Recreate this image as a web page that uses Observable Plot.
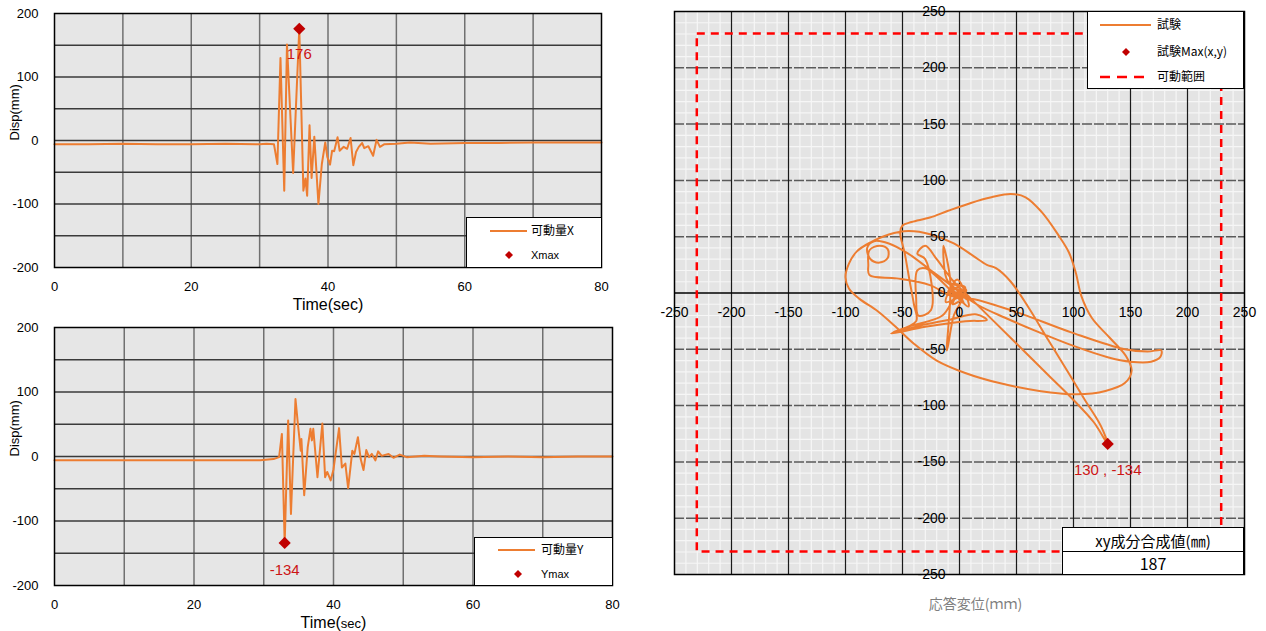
<!DOCTYPE html>
<html><head><meta charset="utf-8">
<script src="https://cdn.jsdelivr.net/npm/d3@7"></script>
<script src="https://cdn.jsdelivr.net/npm/@observablehq/plot@0.6"></script>
<style>
body{margin:0;background:#fff;}
#root{position:relative;width:1266px;height:631px;overflow:hidden;font-family:"Liberation Sans","Noto Sans CJK JP",sans-serif;}
.pane{position:absolute;}
.pane svg{overflow:visible;}
.box{position:absolute;background:#fff;border:1px solid #000;box-sizing:border-box;}
.item{position:absolute;white-space:nowrap;line-height:1;transform:translateY(-50%);}
.item.center{transform:translate(-50%,-50%);}
</style></head><body><div id="root"></div>
<script>
// ---- time series X (top) ----
const timeX = [0, 5, 10, 15, 20, 25, 30, 31, 32.1, 32.6, 33.05, 33.6, 34.0, 34.9, 35.8, 36.4, 36.7, 36.95, 37.3, 37.6, 38.0, 38.6, 39.1, 39.6, 39.9, 40.3, 40.6, 40.9, 41.4, 41.7, 42.3, 42.8, 43.3, 43.7, 44.1, 44.5, 45.0, 45.3, 45.9, 46.6, 47.1, 47.6, 48.2, 50, 52, 55, 60, 65, 70, 75, 80];
const dispX = [-6, -6, -5, -6, -6, -5, -6, -5, -6, -37, 130, -79, 151, -51, 176, -79, -60, -87, 24, -59, 6, -100, -37, -3, -26, -38, -16, -17, 5, -16, -10, -13, 4, -39, -18, -10, -4, -12, -9, -24, 1, -10, -6, -5, -3, -5, -4, -4, -3, -3, -3];
const maxXPoint = [35.8, 176];
// ---- time series Y (bottom) ----
const timeY = [0, 5, 10, 15, 20, 25, 29.5, 31.4, 32.2, 32.6, 33.0, 33.5, 33.9, 34.55, 34.9, 35.3, 35.4, 35.8, 36.3, 36.7, 36.9, 37.1, 37.7, 38.4, 38.8, 39.1, 39.6, 40.0, 40.8, 41.2, 41.7, 42.1, 42.7, 43.0, 43.5, 43.9, 44.3, 44.7, 45.1, 45.5, 46.0, 46.4, 46.9, 47.9, 48.6, 49.5, 50.5, 53, 55.3, 60, 65, 70, 75, 80];
const dispY = [-6, -6, -6, -6, -6, -6, -6, -4, -1, 35, -134, 56, -89, 89, 50, 9, 27, -60, 14, 43, 25, 43, -32, 51, -32, -24, -37, -20, 44, -17, -11, -49, 9, 4, 30, -4, -21, 10, -1, 4, -6, 8, 1, 4, -2, 3, -1, 1, 0, -1, 0, -1, 0, 0];
const maxYPoint = [33.0, -134];
// ---- XY orbit ----
const orbitX = [-5, -2, -8, 0, -6, 3, -10, -4, 6, -12, -2, 8, -30, -37, -38, -36, -25, -30, -37, -30, -20, -5, 10, 30, 55, 80, 100, 118, 130, 124, 110, 95, 78, 60, 45, 32, 24, 12, -5, -25, -45, -62, -78, -90, -97, -100, -97, -88, -72, -56, -40, -20, 5, 35, 70, 103, 128, 145, 151, 146, 132, 116, 107, 102, 96, 87, 72, 58, 45, 28, 10, -10, -26, -42, -50, -52, -48, -44, -40, -38, -58, -35, -10, 15, 24, 5, -30, -60, -45, -15, -5, 5, -10, -14, -8, -11, -5, 3, -8, 4, -3, 7, 10, 50, 98, 145, 165, 177, 176, 168, 150, 130, 100, 70, 40, 15, -5, -25, -45, -62, -75, -81, -78, -70, -63, -63, -70, -79, -80, -79, -55, -26, -5, 2, -6, 0];
const orbitY = [-6, -3, 2, 5, -10, -4, 0, 8, 2, -8, 12, -12, 22, 20, -5, -20, -15, 30, 35, 42, 30, 10, -5, -25, -50, -75, -95, -115, -134, -118, -95, -70, -42, -12, 10, 22, 25, 33, 44, 52, 55, 52, 45, 37, 26, 14, 4, -5, -16, -30, -45, -60, -71, -80, -87, -90, -87, -80, -69, -56, -40, -22, -3, 18, 36, 51, 72, 85, 88, 85, 80, 73, 67, 63, 60, 54, 35, 12, -10, -25, -35, -29, -24, -19, -24, -25, -30, -36, -30, -20, -5, 5, 10, 42, 10, -51, -20, -2, 6, -9, 4, -6, -5, -17, -35, -50, -52, -51, -57, -61, -61, -57, -47, -35, -22, -10, 5, 20, 35, 44, 46, 40, 30, 27, 31, 39, 42, 38, 25, 16, 13, 7, -3, 2, 3, -2];
const xyMax = [130, -134];
const rangeLimit = [-230, 230];
const resultant = "187";
// ---- ticks ----
const timeTicks = [0, 20, 40, 60, 80];
const dispTicks = [-200, -100, 0, 100, 200];
const xyTicks = [-250, -200, -150, -100, -50, 0, 50, 100, 150, 200, 250];

const FONT = "'Liberation Sans','Noto Sans CJK JP',sans-serif";
const JP = "'Noto Sans CJK JP',sans-serif";
const ORANGE = "#ED7D31", DARKRED = "#C00000", LABELRED = "#CC1515";
const root = document.getElementById("root");

function timePlot(times, disps, maxPt, labelDy, width, height, marginRight, marginBottom) {
  const data = times.map((t, i) => ({t, d: disps[i]}));
  return Plot.plot({
    width, height, marginTop: 13, marginLeft: 54, marginRight, marginBottom,
    style: {fontFamily: FONT, fontSize: "13px", background: "transparent", color: "#000"},
    x: {domain: [0, 80], ticks: timeTicks, tickSize: 0, tickPadding: 14, label: null, tickFormat: d => String(d)},
    y: {domain: [-200, 200], ticks: dispTicks, tickSize: 0, tickPadding: 16, label: null, tickFormat: d => String(d)},
    marks: [
      Plot.frame({fill: "#e6e6e6"}),
      Plot.ruleX(d3.range(10, 80, 10), {stroke: "#707070", strokeWidth: 1.5}),
      Plot.ruleY(d3.range(-150, 200, 50), {stroke: "#3a3a3a", strokeWidth: 1.5}),
      Plot.line(data, {x: "t", y: "d", stroke: ORANGE, strokeWidth: 2}),
      Plot.dot([{t: maxPt[0], d: maxPt[1]}], {x: "t", y: "d", symbol: "diamond2", r: 5.5, fill: DARKRED, stroke: "none"}),
      Plot.text([{t: maxPt[0], d: maxPt[1]}], {x: "t", y: "d", text: d => String(d.d), dy: labelDy, fill: LABELRED, fontSize: 15}),
      Plot.text(["Time(sec)"], {frameAnchor: "bottom", lineAnchor: "middle", dy: 37, fontSize: 16}),
      Plot.text(["Disp(mm)"], {frameAnchor: "left", lineAnchor: "middle", dx: -40, rotate: -90, fontSize: 13}),
      Plot.frame({stroke: "#000", strokeWidth: 1.5})
    ]
  });
}

// top-left
const p1 = timePlot(timeX, dispX, maxXPoint, 25, 620, 312, 19, 45);
const d1 = document.createElement("div"); d1.className = "pane"; d1.style.left = "0px"; d1.style.top = "0px";
d1.appendChild(p1); root.appendChild(d1);

// bottom-left
const p2 = timePlot(timeY, dispY, maxYPoint, 27, 630, 317, 18, 46);
const d2 = document.createElement("div"); d2.className = "pane"; d2.style.left = "0px"; d2.style.top = "314px";
d2.appendChild(p2); root.appendChild(d2);
d3.select(p2).selectAll("text").filter(function(){ return this.textContent === "Time(sec)"; }).each(function(){
  const t = d3.select(this); t.text("");
  t.append("tspan").attr("font-size", 16).text("Time(");
  t.append("tspan").attr("font-size", 13).text("sec");
  t.append("tspan").attr("font-size", 16).text(")");
});

// right XY
const xyData = orbitX.map((x, i) => ({x, y: orbitY[i]}));
const minor = d3.range(-240, 250, 10).filter(v => v % 50 !== 0);
const major = d3.range(-200, 250, 50);
const p3 = Plot.plot({
  width: 636, height: 631, marginLeft: 44, marginRight: 22, marginTop: 11, marginBottom: 57,
  style: {fontFamily: FONT, fontSize: "14px", background: "transparent", color: "#000"},
  x: {domain: [-250, 250], axis: null},
  y: {domain: [-250, 250], axis: null},
  marks: [
    Plot.frame({fill: "#e4e4e4"}),
    Plot.ruleX(minor, {stroke: "#f6f6f6", strokeWidth: 1.2}),
    Plot.ruleY(minor, {stroke: "#f6f6f6", strokeWidth: 1.2}),
    Plot.ruleY(major.filter(v => v !== 0), {stroke: "#5a5a5a", strokeWidth: 1.5, strokeDasharray: "10,2"}),
    Plot.ruleX(major, {stroke: "#1a1a1a", strokeWidth: 1.2}),
    Plot.ruleY([0], {stroke: "#000", strokeWidth: 1.5}),
    Plot.rect([{x1: rangeLimit[0], x2: rangeLimit[1], y1: rangeLimit[0], y2: rangeLimit[1]}],
      {x1: "x1", x2: "x2", y1: "y1", y2: "y2", fill: "none", stroke: "#ff0000", strokeWidth: 2.5, strokeDasharray: "8,6"}),
    Plot.line(xyData, {x: "x", y: "y", stroke: ORANGE, strokeWidth: 2, curve: "catmull-rom"}),
    Plot.dot([{x: xyMax[0], y: xyMax[1]}], {x: "x", y: "y", symbol: "diamond2", r: 5.5, fill: DARKRED, stroke: "none"}),
    Plot.text([{x: xyMax[0], y: xyMax[1]}], {x: "x", y: "y", text: d => `${d.x} , ${d.y}`, dy: 26, fill: LABELRED, fontSize: 15}),
    Plot.text(xyTicks, {x: d => d, y: 0, dy: 20, text: d => String(d), fontSize: 14}),
    Plot.text(xyTicks, {x: 0, y: d => d, dx: -14, textAnchor: "end", text: d => String(d), fontSize: 14}),
    Plot.text(["応答変位(ｍｍ)"], {frameAnchor: "bottom", lineAnchor: "middle", dy: 30, dx: 16, fill: "#7f7f7f", fontSize: 14, fontFamily: JP}),
    Plot.frame({stroke: "#000", strokeWidth: 1.5})
  ]
});
const d3p = document.createElement("div"); d3p.className = "pane"; d3p.style.left = "630px"; d3p.style.top = "0px";
d3p.appendChild(p3); root.appendChild(d3p);

// ---- legends (HTML) ----
function lineSwatch(w, color, dash, sw) {
  return `<svg width="${w}" height="6" style="display:block"><line x1="0" x2="${w}" y1="3" y2="3" stroke="${color}" stroke-width="${sw}" ${dash ? `stroke-dasharray="${dash}"` : ""}/></svg>`;
}
function diamondSwatch(s) {
  return `<svg width="${s}" height="${s}" style="display:block"><polygon points="${s/2},0 ${s},${s/2} ${s/2},${s} 0,${s/2}" fill="${DARKRED}"/></svg>`;
}
function addBox(left, top, w, h, items) {
  const b = document.createElement("div"); b.className = "box";
  Object.assign(b.style, {left: left + "px", top: top + "px", width: w + "px", height: h + "px"});
  for (const it of items) {
    const e = document.createElement("div");
    e.className = "item" + (it.center ? " center" : "");
    e.style.left = it.x + "px"; e.style.top = it.y + "px";
    e.style.fontSize = (it.fs || 12) + "px";
    if (it.font) e.style.fontFamily = it.font;
    e.innerHTML = it.html;
    b.appendChild(e);
  }
  root.appendChild(b);
  return b;
}
addBox(466, 217, 136, 51, [
  {x: 23, y: 13, html: lineSwatch(37, ORANGE, null, 2)},
  {x: 64, y: 12, html: "可動量X", fs: 12, font: JP},
  {x: 38, y: 37, html: diamondSwatch(8)},
  {x: 64, y: 37, html: "Xmax", fs: 11}
]);
addBox(474, 537, 139, 49, [
  {x: 23, y: 12, html: lineSwatch(37, ORANGE, null, 2)},
  {x: 66, y: 11, html: "可動量Y", fs: 12, font: JP},
  {x: 39, y: 36, html: diamondSwatch(8)},
  {x: 66, y: 36, html: "Ymax", fs: 11}
]);
addBox(1087, 11, 157, 78, [
  {x: 12, y: 13, html: lineSwatch(51, ORANGE, null, 2)},
  {x: 69, y: 12, html: "試験", fs: 12, font: JP},
  {x: 34, y: 40, html: diamondSwatch(8)},
  {x: 69, y: 39, html: "試験Max(x,y)", fs: 12, font: JP},
  {x: 12, y: 65, html: lineSwatch(51, "#ff0000", "10,7", 2.5)},
  {x: 69, y: 64, html: "可動範囲", fs: 12, font: JP}
]);
// resultant table
const tb = addBox(1062, 527, 182, 48, [
  {x: 90, y: 12, html: "xy成分合成値(㎜)", fs: 15, font: JP, center: true},
  {x: 90, y: 35, html: resultant, fs: 16, font: JP, center: true}
]);
const divider = document.createElement("div");
Object.assign(divider.style, {position: "absolute", left: "0", top: "23px", width: "100%", height: "1px", background: "#000"});
tb.appendChild(divider);
</script></body></html>
